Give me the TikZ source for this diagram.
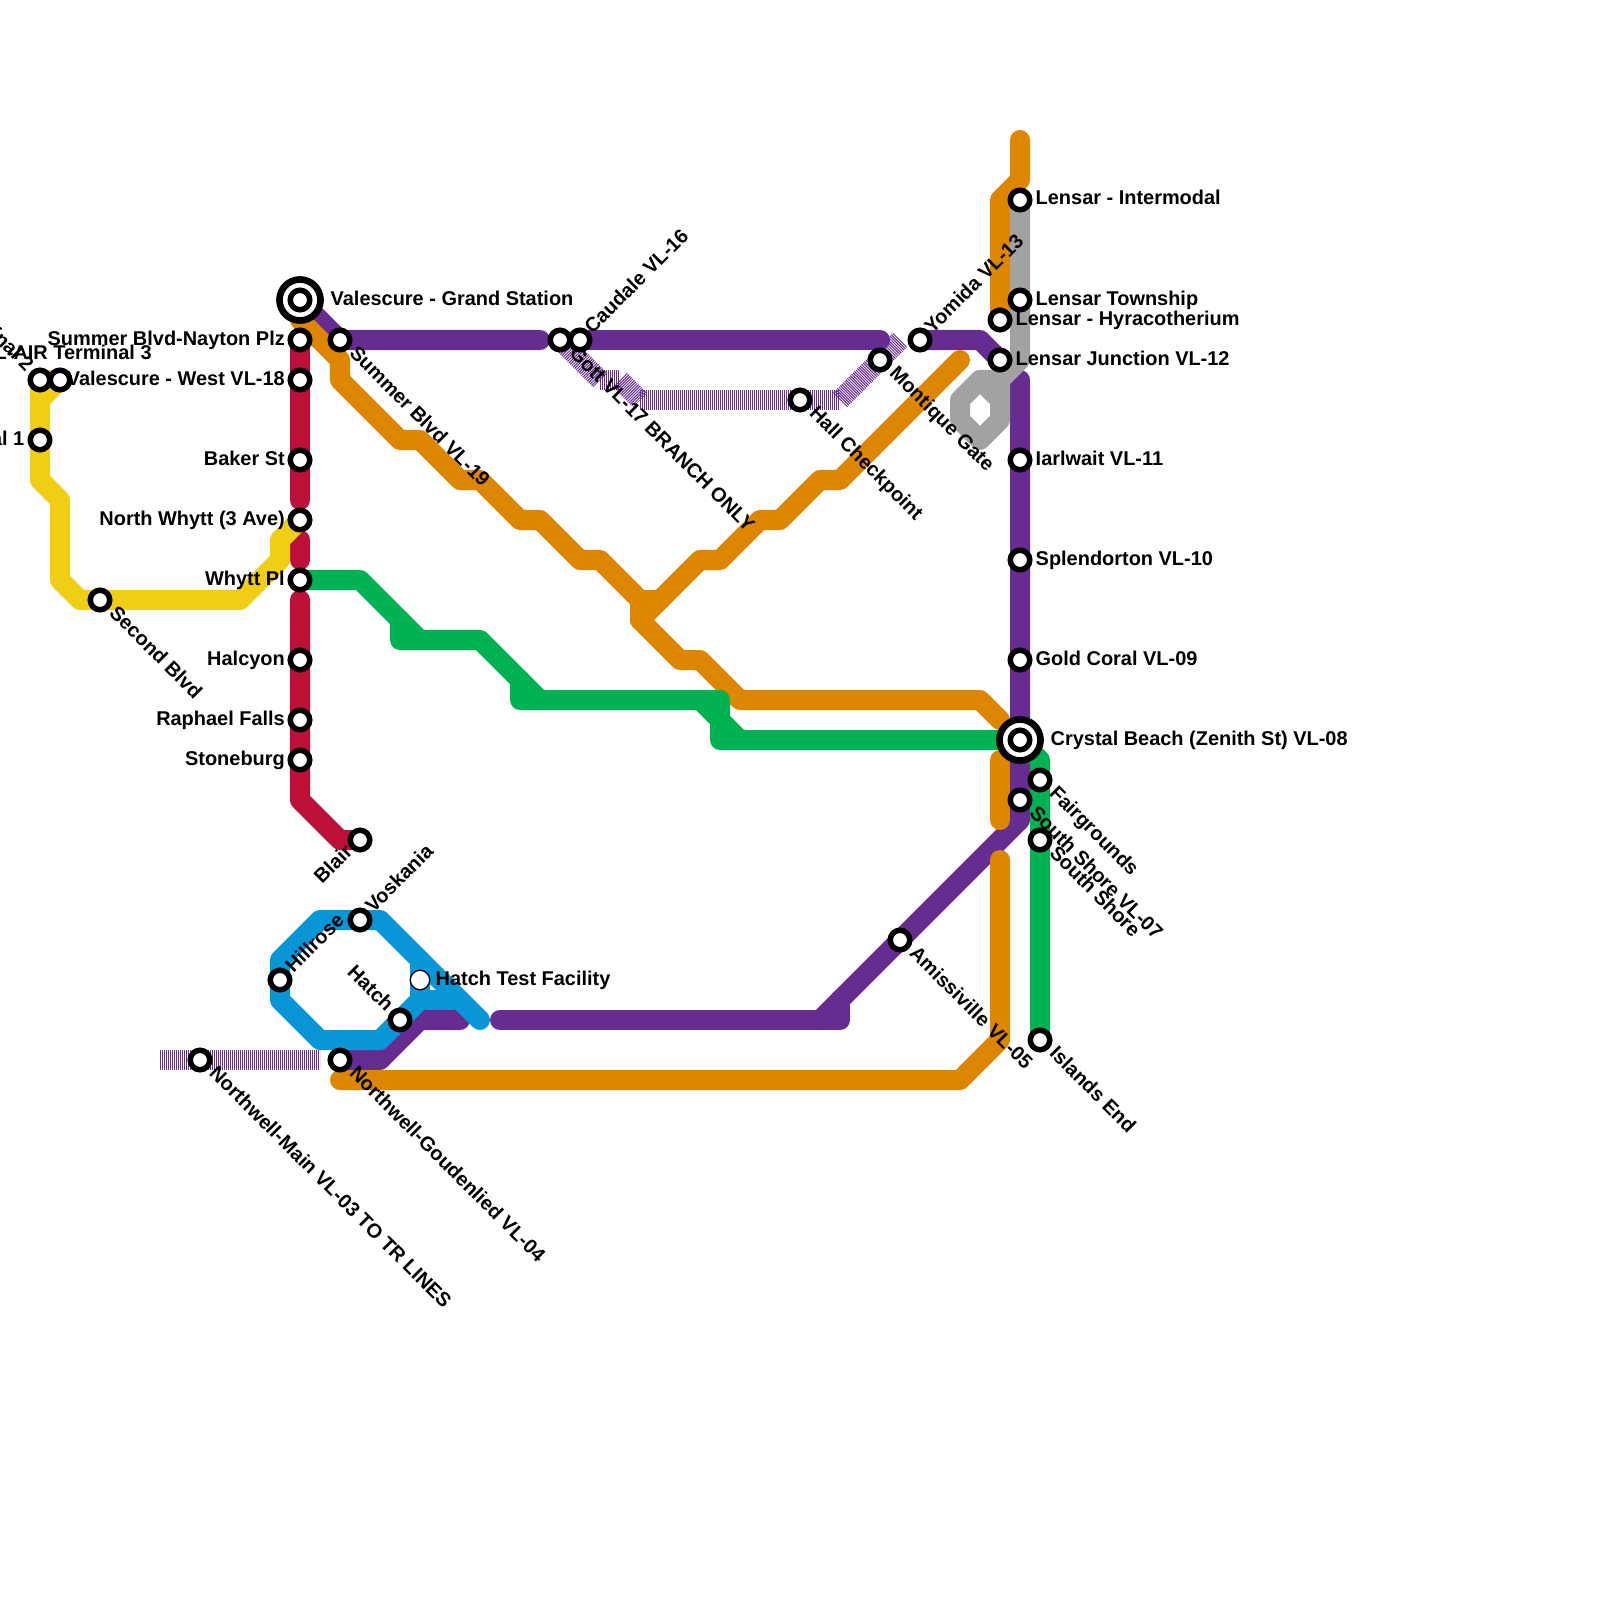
\documentclass[tikz,border=0pt]{standalone}
\usepackage{fontspec}
\setmainfont{Liberation Sans}
\usetikzlibrary{backgrounds}
\definecolor{crimson}{HTML}{BD1038}
\definecolor{amber}{HTML}{DF8600}
\definecolor{plum}{HTML}{662C90}
\definecolor{jade}{HTML}{00B251}
\definecolor{sun}{HTML}{F0CE15}
\definecolor{sky}{HTML}{0896D7}
\definecolor{slate}{HTML}{A2A2A2}
\begin{document}
\begin{tikzpicture}[
    x=0.01cm,
    y=-0.01cm,
    font=\fontsize{5.67pt}{7pt}\selectfont\bfseries,
    route/.style={
        line width=0.2cm,
        line cap=round,
        line join=round
    },
    hatch/.style={
        draw=plum,
        line width=0.2cm,
        dash pattern=on 0.01cm off 0.01cm
    },
    stn/.style={
        circle,
        draw=black,
        fill=white,
        line width=0.055cm,
        minimum size=0.195cm,
        inner sep=0pt
    },
    hub/.style={
        circle,
        draw=black,
        fill=white,
        line width=0.067cm,
        minimum size=0.41cm,
        inner sep=0pt
    },
    plainstn/.style={
        circle,
        draw=black,
        fill=white,
        line width=0.013cm,
        minimum size=0.195cm,
        inner sep=0pt
    },
    lblr/.style={anchor=base west,inner sep=0pt},
    lbll/.style={anchor=base east,inner sep=0pt},
    lbldr/.style={anchor=base west,inner sep=0pt,rotate=-45},
    lblur/.style={anchor=base west,inner sep=0pt,rotate=45},
    lblul/.style={anchor=base east,inner sep=0pt,rotate=-45},
    lbldl/.style={anchor=base east,inner sep=0pt,rotate=45}
]
\useasboundingbox (0,0) rectangle (1600,1600);

% hubs
\node[hub] (grandring) at (300,300) {};
\node[stn] (grand) at (300,300) {};
\node[lblr] (grandlab) at (330,305) {Valescure - Grand Station};
\node[hub] (crystalring) at (1020,740) {};
\node[stn] (crystal) at (1020,740) {};
\node[lblr] (crystallab) at (1050,745) {Crystal Beach (Zenith St) VL-08};

% red stations
\node[stn] (nayton) at (300,340) {};
\node[lbll] (naytonlab) at (285.5,345) {Summer Blvd-Nayton Plz};
\node[stn] (westvl) at (300,380) {};
\node[lbll] (westvllab) at (285.5,385) {Valescure - West VL-18};
\node[stn] (baker) at (300,460) {};
\node[lbll] (bakerlab) at (285.5,465) {Baker St};
\node[stn] (nwhytt) at (300,520) {};
\node[lbll] (nwhyttlab) at (285.5,525) {North Whytt (3 Ave)};
\node[stn] (whyttpl) at (300,580) {};
\node[lbll] (whyttpllab) at (285.5,585) {Whytt Pl};
\node[stn] (halcyon) at (300,660) {};
\node[lbll] (halcyonlab) at (285.5,665) {Halcyon};
\node[stn] (raphael) at (300,720) {};
\node[lbll] (raphaellab) at (285.5,725) {Raphael Falls};
\node[stn] (stoneburg) at (300,760) {};
\node[lbll] (stoneburglab) at (285.5,765) {Stoneburg};
\node[stn] (blair) at (360,840) {};
\node[lbldl] (blairlab) at (354,853) {Blair};

% yellow stations
\node[stn] (term2) at (40,380) {};
\node[lblul] (term2lab) at (26,373) {L-AIR Terminal 2};
\node[stn] (term3) at (60,380) {};
\node[lblr] (term3lab) at (-6,359) {L-AIR Terminal 3};
\node[stn] (term1) at (40,440) {};
\node[lbll] (term1lab) at (25,445) {L-AIR Terminal 1};
\node[stn] (second) at (100,600) {};
\node[lbldr] (secondlab) at (108,614) {Second Blvd};

% purple stations
\node[stn] (summer) at (340,340) {};
\node[lbldr] (summerlab) at (348,354) {Summer Blvd VL-19};
\node[stn] (gott) at (560,340) {};
\node[lbldr] (gottlab) at (568,354) {Gott VL-17 BRANCH ONLY};
\node[stn] (caudale) at (580,340) {};
\node[lblur] (caudalelab) at (592,335) {Caudale VL-16};
\node[stn] (hall) at (800,400) {};
\node[lbldr] (halllab) at (808,414) {Hall Checkpoint};
\node[stn] (montique) at (880,360) {};
\node[lbldr] (montiquelab) at (888,374) {Montique Gate};
\node[stn] (yomida) at (920,340) {};
\node[lblur] (yomidalab) at (932,335) {Yomida VL-13};
\node[stn] (junction) at (1000,360) {};
\node[lblr] (junctionlab) at (1015,365) {Lensar Junction VL-12};
\node[stn] (iarlwait) at (1020,460) {};
\node[lblr] (iarlwaitlab) at (1035,465) {Iarlwait VL-11};
\node[stn] (splendor) at (1020,560) {};
\node[lblr] (splendorlab) at (1035,565) {Splendorton VL-10};
\node[stn] (goldcoral) at (1020,660) {};
\node[lblr] (goldcorallab) at (1035,665) {Gold Coral VL-09};
\node[stn] (southvl) at (1020,800) {};
\node[lbldr] (southvllab) at (1028,814) {South Shore VL-07};
\node[stn] (amiss) at (900,940) {};
\node[lbldr] (amisslab) at (908,954) {Amissiville VL-05};
\node[stn] (nwgoud) at (340,1060) {};
\node[lbldr] (nwgoudlab) at (348,1074) {Northwell-Goudenlied VL-04};
\node[stn] (nwmain) at (200,1060) {};
\node[lbldr] (nwmainlab) at (208,1074) {Northwell-Main VL-03 TO TR LINES};

% grey and orange stations
\node[stn] (intermodal) at (1020,200) {};
\node[lblr] (intermodallab) at (1035,205) {Lensar - Intermodal};
\node[stn] (township) at (1020,300) {};
\node[lblr] (townshiplab) at (1035,305) {Lensar Township};
\node[stn] (hyra) at (1000,320) {};
\node[lblr] (hyralab) at (1015,325) {Lensar - Hyracotherium};

% green stations
\node[stn] (fairgrnd) at (1040,780) {};
\node[lbldr] (fairgrndlab) at (1048,794) {Fairgrounds};
\node[stn] (southsh) at (1040,840) {};
\node[lbldr] (southshlab) at (1048,854) {South Shore};
\node[stn] (islands) at (1040,1040) {};
\node[lbldr] (islandslab) at (1048,1054) {Islands End};

% blue stations
\node[stn] (voskania) at (360,920) {};
\node[lblur] (voskanialab) at (373,914) {Voskania};
\node[stn] (hillrose) at (280,980) {};
\node[lblur] (hillroselab) at (293,974) {Hillrose};
\node[plainstn] (hatchtest) at (420,980) {};
\node[lblr] (hatchtestlab) at (435,985) {Hatch Test Facility};
\node[stn] (hatch) at (400,1020) {};
\node[lblul] (hatchlab) at (386,1013) {Hatch};

% line ends
\coordinate (redA) at (300,500);
\coordinate (redB) at (300,540);
\coordinate (redC) at (300,560);
\coordinate (redD) at (300,600);
\coordinate (hatchA) at (160,1060);
\coordinate (hatchB) at (320,1060);
\coordinate (hatchC) at (600,380);
\coordinate (hatchD) at (620,380);
\coordinate (hatchE) at (640,400);
\coordinate (hatchF) at (840,400);
\coordinate (hatchG) at (900,340);
\coordinate (plumA) at (540,340);
\coordinate (plumB) at (880,340);
\coordinate (plumC) at (1020,380);
\coordinate (plumD) at (500,1020);
\coordinate (plumE) at (840,1000);
\coordinate (plumF) at (460,1020);
\coordinate (amberA) at (300,320);
\coordinate (amberB) at (1000,720);
\coordinate (amberC) at (960,360);
\coordinate (amberD) at (1020,140);
\coordinate (amberE) at (1000,760);
\coordinate (amberF) at (1000,820);
\coordinate (amberG) at (1000,860);
\coordinate (amberH) at (340,1080);
\coordinate (blueA) at (480,1020);
\coordinate (blueB) at (460,1000);

\begin{scope}[on background layer]
% red
\draw[route,crimson] (nayton.center) -- (redA);
\draw[route,crimson] (redB) -- (redC);
\draw[route,crimson] (redD) -- (300,800) -- (340,840) -- (blair.center);

% branch track
\draw[hatch] (hatchA) -- (hatchB);
\draw[hatch] (gott.center) -- (hatchC);
\draw[hatch] (hatchC) -- (hatchD);
\draw[hatch] (hatchD) -- (hatchE);
\draw[hatch] (hatchE) -- (hatchF);
\draw[hatch] (hatchF) -- (hatchG);

% purple
\draw[route,plum] (grand.center) -- (summer.center) -- (plumA);
\draw[route,plum] (caudale.center) -- (plumB);
\draw[route,plum] (yomida.center) -- (980,340) -- (junction.center);
\draw[route,plum] (plumC) -- (1020,820) -- (820,1020);
\draw[route,plum] (plumD) -- (840,1020) -- (plumE);
\draw[route,plum] (nwgoud.center) -- (380,1060) -- (420,1020) -- (plumF);

% orange
\draw[route,amber] (amberA) -- (340,360) -- (340,380) -- (400,440) -- (420,440)
    -- (460,480) -- (480,480) -- (520,520) -- (540,520) -- (580,560) -- (600,560)
    -- (640,600) -- (640,620) -- (680,660) -- (700,660) -- (740,700) -- (980,700)
    -- (amberB);
\draw[route,amber] (640,620) -- (700,560) -- (720,560) -- (760,520) -- (780,520)
    -- (820,480) -- (840,480) -- (amberC);
\draw[route,amber] (640,600) -- (660,600);
\draw[route,amber] (amberD) -- (1020,180) -- (1000,200) -- (hyra.center);
\draw[route,amber] (amberE) -- (amberF);
\draw[route,amber] (amberG) -- (1000,1040) -- (960,1080) -- (amberH);

% yellow
\draw[route,sun] (term3.center) -- (term2.center) -- (40,480) -- (60,500) -- (60,580)
    -- (80,600) -- (240,600) -- (280,560) -- (280,540) -- (nwhytt.center);
\draw[route,sun] (term3.center) -- (40,400);

% green
\draw[route,jade] (whyttpl.center) -- (360,580) -- (420,640);
\draw[route,jade] (400,620) -- (400,640) -- (480,640) -- (540,700);
\draw[route,jade] (520,680) -- (520,700) -- (720,700) -- (720,740) -- (crystal.center)
    -- (1040,760) -- (islands.center);
\draw[route,jade] (700,700) -- (740,740);

% grey
\draw[route,slate] (intermodal.center) -- (1020,360) -- (1000,380) -- (980,380) -- (960,400)
    -- (960,420) -- (980,440) -- (1000,420) -- (1000,380);
\draw[route,slate] (980,380) -- (1000,400);

% blue
\draw[route,sky] (hillrose.center) -- (280,960) -- (320,920) -- (380,920) -- (blueA);
\draw[route,sky] (hillrose.center) -- (280,1000) -- (320,1040) -- (380,1040) -- (420,1000)
    -- (420,960);
\draw[route,sky] (420,1000) -- (blueB);
\end{scope}

\end{tikzpicture}
\end{document}
